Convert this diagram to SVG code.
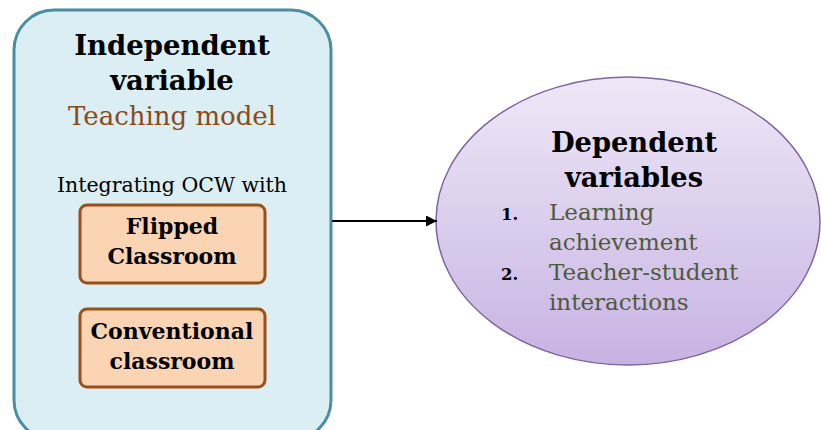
<svg xmlns="http://www.w3.org/2000/svg" width="821" height="430" viewBox="0 0 821 430">
<defs>
<linearGradient id="g" x1="0" y1="0" x2="0" y2="1">
<stop offset="0" stop-color="#efe8f7"/>
<stop offset="1" stop-color="#c7b3e3"/>
</linearGradient>
<marker id="ah" viewBox="0 0 10 10" refX="10" refY="5" markerWidth="11" markerHeight="11" markerUnits="userSpaceOnUse" orient="auto">
<path d="M0,0 L10,5 L0,10 z" fill="#000"/>
</marker>
<style>
.t{font-family:"DejaVu Serif","Liberation Serif",serif;text-anchor:middle}
.b{font-weight:bold;fill:#000}
.sub{stroke:#9c4f18;stroke-width:3;fill:#fbd4b4}
.li{fill:#4e5a3c;font-family:"DejaVu Serif","Liberation Serif",serif;font-size:23px}
.num{fill:#000;font-family:"DejaVu Serif","Liberation Serif",serif;font-size:16.5px;font-weight:bold}
</style>
</defs>
<rect width="821" height="430" fill="#fff"/>
<g id="independent">
<rect x="14" y="10" width="317" height="430" rx="40" fill="#daeef3" stroke="#4a8ea6" stroke-width="3"/>
<text class="t b" x="172" y="55" font-size="27.5">Independent</text>
<text class="t b" x="172" y="90" font-size="27.5">variable</text>
<text class="t" x="172" y="125" font-size="26" fill="#8c4a1a">Teaching model</text>
<text class="t" x="172" y="192" font-size="20.5" fill="#000">Integrating OCW with</text>
</g>
<g id="flipped">
<rect class="sub" x="80" y="205" width="185" height="78" rx="7"/>
<text class="t b" x="172" y="234" font-size="22">Flipped</text>
<text class="t b" x="172" y="264" font-size="22">Classroom</text>
</g>
<g id="conventional">
<rect class="sub" x="80" y="309" width="185" height="78" rx="7"/>
<text class="t b" x="172" y="339" font-size="22">Conventional</text>
<text class="t b" x="172" y="369" font-size="22">classroom</text>
</g>
<g id="dependent">
<ellipse cx="628" cy="221" rx="192" ry="144" fill="url(#g)" stroke="#7f64a0" stroke-width="1.5"/>
<text class="t b" x="634" y="152" font-size="27.3">Dependent</text>
<text class="t b" x="634" y="187" font-size="27.3">variables</text>
<text class="num" x="501" y="220">1.</text>
<text class="li" x="549" y="220">Learning</text>
<text class="li" x="549" y="250">achievement</text>
<text class="num" x="501" y="280">2.</text>
<text class="li" x="549" y="280">Teacher-student</text>
<text class="li" x="549" y="310">interactions</text>
</g>
<g id="connectors">
<line x1="332" y1="221" x2="437" y2="221" stroke="#000" stroke-width="2" marker-end="url(#ah)"/>
</g>
</svg>
